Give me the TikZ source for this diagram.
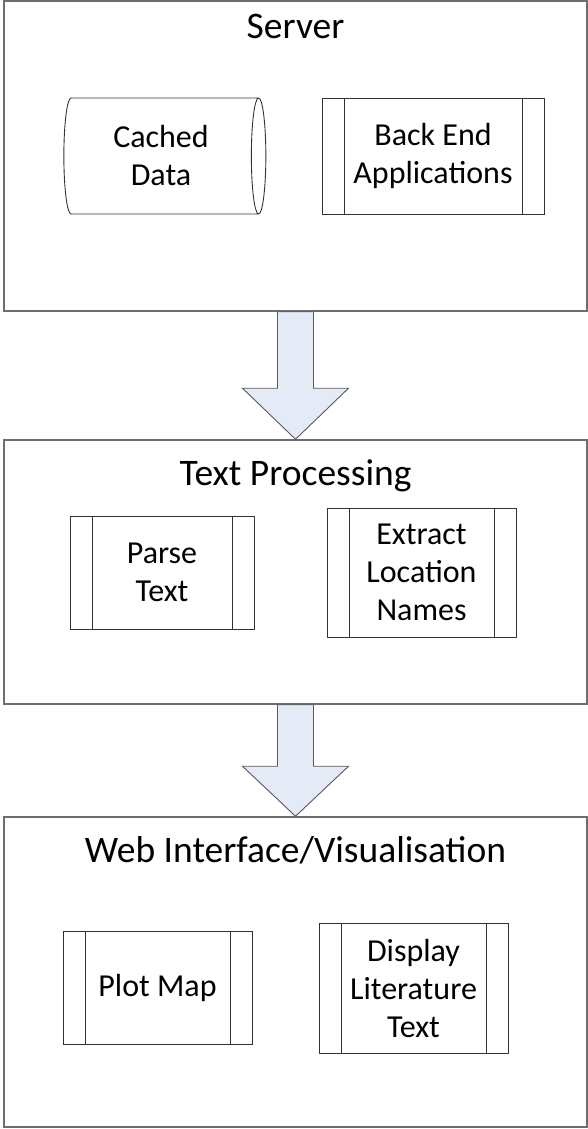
\documentclass[tikz,border=0pt]{standalone}
\usepackage{fontspec}
\setmainfont{Carlito}
\usetikzlibrary{shapes.geometric, calc}

\definecolor{arrowfill}{RGB}{228,234,246}
\definecolor{framegray}{RGB}{110,110,110}

\tikzset{
  stage/.style={draw=framegray, line width=1.5pt, minimum width=583pt,
    inner sep=0pt},
  stagetitle/.style={anchor=base, font=\fontsize{37.5}{45}\selectfont},
  procbox/.style={draw=black!80, line width=0.9pt, align=center,
    inner sep=0pt, font=\fontsize{32}{38}\selectfont,
    path picture={
      \draw[black!80, line width=0.9pt]
        ([xshift=22pt]path picture bounding box.north west) --
        ([xshift=22pt]path picture bounding box.south west)
        ([xshift=-22pt]path picture bounding box.north east) --
        ([xshift=-22pt]path picture bounding box.south east);
    }},
  store/.style={cylinder, draw=black!80, line width=0.9pt, aspect=0.24,
    align=center, inner sep=0pt, font=\fontsize{32}{38}\selectfont},
  flowarrow/.style={fill=arrowfill, draw=black!65, line width=0.9pt,
    line join=miter}
}

\begin{document}
\begin{tikzpicture}[x=1pt, y=-1pt]
  \useasboundingbox (0,0) rectangle (588,1129);

  % the three stages
  \node[stage, minimum height=310pt] (server) at (295.5,156) {};
  \node[stage, minimum height=264pt] (textproc) at (295.5,572) {};
  \node[stage, minimum height=310pt] (webui) at (295.5,972) {};

  \node[stagetitle] (servertitle) at (295.5,39) {Server};
  \node[stagetitle] (textproctitle) at (295.5,485) {Text Processing};
  \node[stagetitle] (webuititle) at (295.5,862) {Web Interface/Visualisation};

  % server parts
  \node[store, minimum width=116pt, minimum height=202pt] (cache)
    at (161,156) {Cached\\Data};
  \node[procbox, minimum width=222pt, minimum height=116pt] (backend)
    at (433,156) {Back End\\Applications};

  % text processing parts
  \node[procbox, minimum width=184pt, minimum height=113pt] (parse)
    at (162,572.5) {Parse\\Text};
  \node[procbox, minimum width=189pt, minimum height=129pt] (extract)
    at (421.5,572.5) {Extract\\Location\\Names};

  % web interface parts
  \node[procbox, minimum width=189pt, minimum height=113pt] (plotmap)
    at (157.5,987.5) {Plot Map};
  \node[procbox, minimum width=189pt, minimum height=130pt] (display)
    at (413.5,988) {Display\\Literature\\Text};

  % block arrows between the stages
  \filldraw[flowarrow] ($(server.south)+(-18,0)$) -- ($(server.south)+(18,0)$)
    -- ($(textproc.north)+(18,-51)$) -- ($(textproc.north)+(53,-51)$)
    -- (textproc.north) -- ($(textproc.north)+(-53,-51)$)
    -- ($(textproc.north)+(-18,-51)$) -- cycle;
  \filldraw[flowarrow] ($(textproc.south)+(-18,0)$) -- ($(textproc.south)+(18,0)$)
    -- ($(webui.north)+(18,-50)$) -- ($(webui.north)+(53,-50)$)
    -- (webui.north) -- ($(webui.north)+(-53,-50)$)
    -- ($(webui.north)+(-18,-50)$) -- cycle;
\end{tikzpicture}
\end{document}
